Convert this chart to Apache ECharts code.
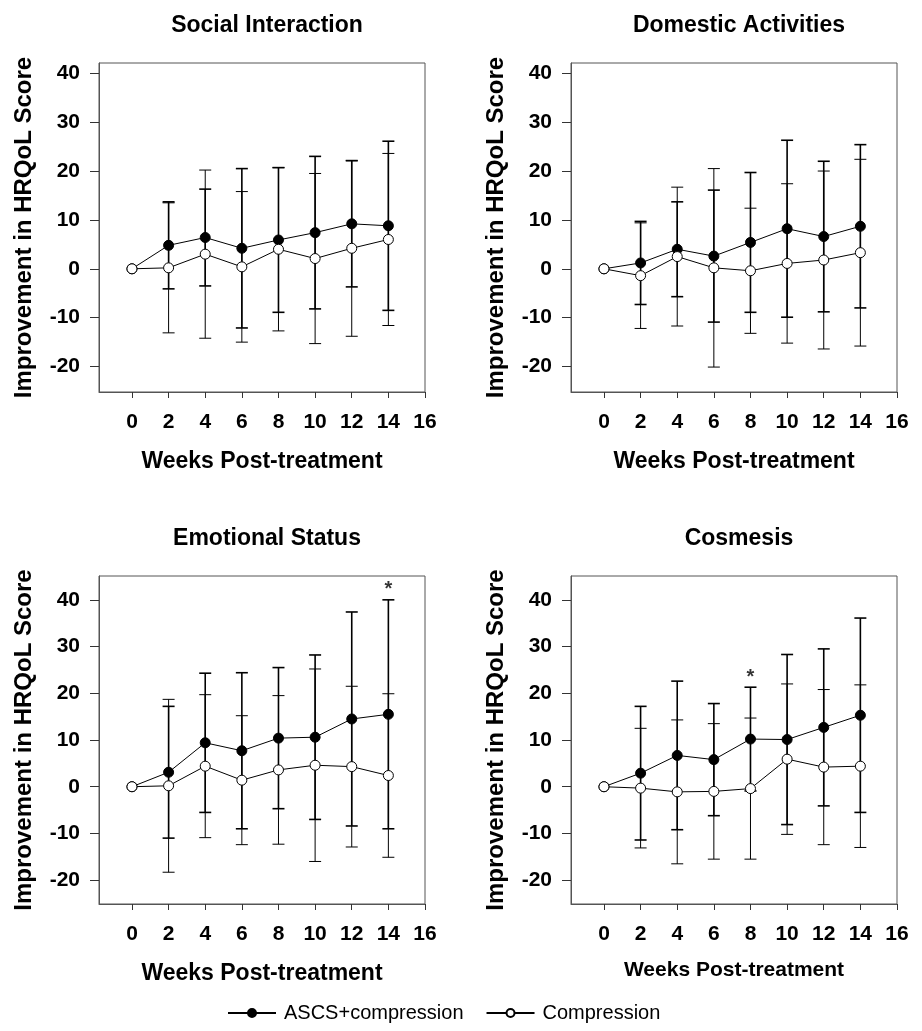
<!DOCTYPE html>
<html>
<head>
<meta charset="utf-8">
<script src="https://cdn.jsdelivr.net/npm/echarts@6/dist/echarts.min.js"></script>
<style>
  html, body { margin: 0; padding: 0; background: #fff; }
  #chart { width: 922px; height: 1031px; }
</style>
</head>
<body>
<div id="chart"></div>
<script>
const weeks = [0, 2, 4, 6, 8, 10, 12, 14];
const xTicks = [0, 2, 4, 6, 8, 10, 12, 14, 16];
const yTicks = [-20, -10, 0, 10, 20, 30, 40];
const panelTitles = ['Social Interaction', 'Domestic Activities', 'Emotional Status', 'Cosmesis'];

// means and SDs
const socialAscs = [0, 4.8, 6.4, 4.2, 5.9, 7.4, 9.2, 8.8];
const socialAscsSd = [0, 8.9, 9.9, 16.3, 14.8, 15.6, 12.9, 17.3];
const socialComp = [0, 0.2, 3.0, 0.4, 4.0, 2.1, 4.2, 6.0];
const socialCompSd = [0, 13.3, 17.2, 15.4, 16.7, 17.4, 18.0, 17.6];

const domesticAscs = [0, 1.2, 4.0, 2.6, 5.4, 8.2, 6.6, 8.7];
const domesticAscsSd = [0, 8.5, 9.7, 13.5, 14.3, 18.1, 15.4, 16.7];
const domesticComp = [0, -1.4, 2.5, 0.2, -0.4, 1.1, 1.8, 3.3];
const domesticCompSd = [0, 10.8, 14.2, 20.3, 12.8, 16.3, 18.2, 19.1];

const emotionalAscs = [0, 3.1, 9.4, 7.7, 10.4, 10.6, 14.5, 15.5];
const emotionalAscsSd = [0, 14.1, 14.9, 16.7, 15.1, 17.6, 22.9, 24.5];
const emotionalComp = [0, 0.2, 4.4, 1.4, 3.6, 4.6, 4.3, 2.4];
const emotionalCompSd = [0, 18.5, 15.3, 13.8, 15.9, 20.6, 17.2, 17.5];

const cosmesisAscs = [0, 2.9, 6.7, 5.8, 10.2, 10.1, 12.7, 15.3];
const cosmesisAscsSd = [0, 14.3, 15.9, 12.0, 11.1, 18.2, 16.8, 20.8];
const cosmesisComp = [0, -0.3, -1.1, -1.0, -0.4, 5.9, 4.2, 4.4];
const cosmesisCompSd = [0, 12.8, 15.4, 14.5, 15.1, 16.1, 16.6, 17.4];

// week marked with * (significant difference), per panel
const starWeeks = [null, null, 14, 8];

const FONT = '"Liberation Sans", Arial, Helvetica, sans-serif';

const panels = [
  { ascs: socialAscs, ascsSd: socialAscsSd, comp: socialComp, compSd: socialCompSd },
  { ascs: domesticAscs, ascsSd: domesticAscsSd, comp: domesticComp, compSd: domesticCompSd },
  { ascs: emotionalAscs, ascsSd: emotionalAscsSd, comp: emotionalComp, compSd: emotionalCompSd },
  { ascs: cosmesisAscs, ascsSd: cosmesisAscsSd, comp: cosmesisComp, compSd: cosmesisCompSd },
];

const grids = [
  { left: 99, top: 63, width: 326, height: 329 },
  { left: 571, top: 63, width: 326, height: 329 },
  { left: 99, top: 576, width: 326, height: 328 },
  { left: 571, top: 576, width: 326, height: 328 },
];

const chart = echarts.init(document.getElementById('chart'), null, { renderer: 'canvas' });

function errorBarSeries(idx, means, sds, width) {
  return {
    type: 'custom',
    xAxisIndex: idx,
    yAxisIndex: idx,
    silent: true,
    z: 1,
    data: weeks.map((w, i) => [w, means[i] - sds[i], means[i] + sds[i]]),
    renderItem: (params, api) => {
      const x = api.value(0);
      const lo = api.coord([x, api.value(1)]);
      const hi = api.coord([x, api.value(2)]);
      if (Math.abs(hi[1] - lo[1]) < 0.5) return null;
      const hw = 6;
      const style = { stroke: '#000', lineWidth: width };
      return {
        type: 'group',
        children: [
          { type: 'line', shape: { x1: lo[0], y1: lo[1], x2: hi[0], y2: hi[1] }, style },
          { type: 'line', shape: { x1: lo[0] - hw, y1: lo[1], x2: lo[0] + hw, y2: lo[1] }, style },
          { type: 'line', shape: { x1: hi[0] - hw, y1: hi[1], x2: hi[0] + hw, y2: hi[1] }, style },
        ],
      };
    },
  };
}

const series = [];
panels.forEach((p, idx) => {
  series.push(errorBarSeries(idx, p.comp, p.compSd, 1));
  series.push(errorBarSeries(idx, p.ascs, p.ascsSd, 1.6));
  series.push({
    name: 'ASCS+compression',
    type: 'line',
    xAxisIndex: idx,
    yAxisIndex: idx,
    z: 3,
    data: weeks.map((w, i) => [w, p.ascs[i]]),
    symbol: 'circle',
    symbolSize: 10,
    lineStyle: { color: '#000', width: 1 },
    itemStyle: { color: '#000', borderColor: '#000', borderWidth: 1 },
  });
  series.push({
    name: 'Compression',
    type: 'line',
    xAxisIndex: idx,
    yAxisIndex: idx,
    z: 4,
    data: weeks.map((w, i) => [w, p.comp[i]]),
    symbol: 'circle',
    symbolSize: 10,
    lineStyle: { color: '#000', width: 1 },
    itemStyle: { color: '#fff', borderColor: '#000', borderWidth: 1 },
  });
  const sw = starWeeks[idx];
  if (sw !== null) {
    const i = weeks.indexOf(sw);
    const top = Math.max(p.ascs[i] + p.ascsSd[i], p.comp[i] + p.compSd[i]);
    series.push({
      type: 'scatter',
      xAxisIndex: idx,
      yAxisIndex: idx,
      silent: true,
      symbolSize: 0,
      data: [[sw, top]],
      label: {
        show: true,
        formatter: '*',
        position: 'top',
        distance: 0,
        color: '#000',
        fontFamily: FONT,
        fontWeight: 'bold',
        fontSize: 20,
      },
    });
  }
});

const titleCenters = [[262, 9], [734, 9], [262, 522], [734, 522]];

const option = {
  animation: false,
  backgroundColor: '#fff',
  textStyle: { fontFamily: FONT },
  title: panelTitles.map((t, i) => ({
    text: t,
    left: titleCenters[i][0],
    top: titleCenters[i][1],
    textAlign: 'center',
    textStyle: { fontFamily: FONT, fontWeight: 'bold', fontSize: 23, color: '#000' },
  })),
  legend: {
    left: 222,
    top: 998,
    itemWidth: 48,
    itemHeight: 10,
    itemGap: 22,
    data: ['ASCS+compression', 'Compression'],
    textStyle: { fontFamily: FONT, fontSize: 20, color: '#000', padding: [0, 0, 0, 3] },
  },
  grid: grids.map(g => ({
    ...g,
    show: true,
    borderColor: '#555',
    borderWidth: 1,
    containLabel: false,
  })),
  xAxis: grids.map((g, i) => ({
    type: 'value',
    gridIndex: i,
    min: -1.8,
    max: 16,
    name: 'Weeks Post-treatment',
    nameLocation: 'middle',
    nameGap: i === 3 ? 56 : 58,
    nameTextStyle: { fontFamily: FONT, fontWeight: 'bold', fontSize: i === 3 ? 21 : 23, color: '#000' },
    splitLine: { show: false },
    axisLine: { show: true, onZero: false, lineStyle: { color: '#555', width: 1 } },
    axisTick: { show: true, length: 6, customValues: xTicks, lineStyle: { color: '#333' } },
    axisLabel: {
      customValues: xTicks,
      margin: 20,
      fontFamily: FONT,
      fontWeight: 'bold',
      fontSize: 21,
      color: '#000',
    },
  })),
  yAxis: grids.map((g, i) => ({
    type: 'value',
    gridIndex: i,
    min: i < 2 ? -25.2 : -25.1,
    max: i < 2 ? 42.1 : 45.1,
    name: 'Improvement in HRQoL Score',
    nameLocation: 'middle',
    nameGap: 63,
    nameTextStyle: { fontFamily: FONT, fontWeight: 'bold', fontSize: 24, color: '#000' },
    splitLine: { show: false },
    axisLine: { show: true, onZero: false, lineStyle: { color: '#555', width: 1 } },
    axisTick: { show: true, length: 9, customValues: yTicks, lineStyle: { color: '#333' } },
    axisLabel: {
      customValues: yTicks,
      margin: 19,
      fontFamily: FONT,
      fontWeight: 'bold',
      fontSize: 21,
      color: '#000',
    },
  })),
  series,
};

chart.setOption(option);
</script>
</body>
</html>
